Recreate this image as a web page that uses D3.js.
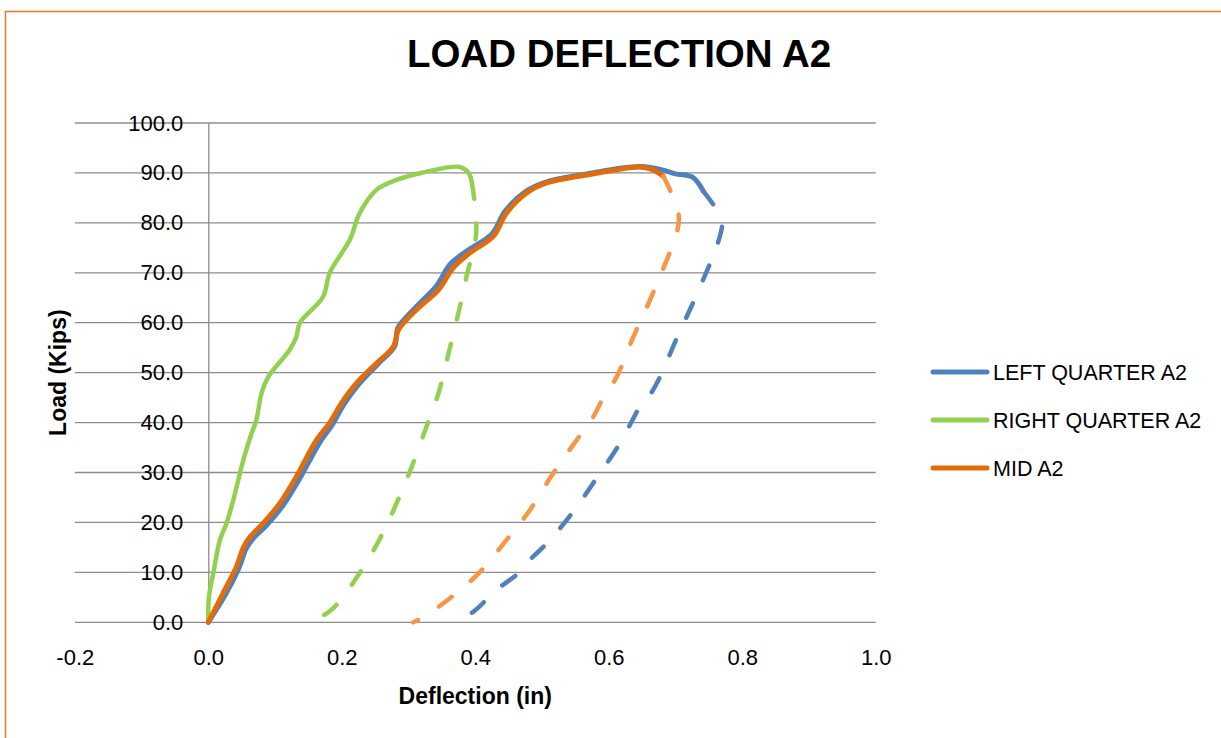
<!DOCTYPE html>
<html>
<head>
<meta charset="utf-8">
<script src="https://cdn.jsdelivr.net/npm/d3@7"></script>
<style>
  body { margin: 0; background: #fff; }
  svg { display: block; font-family: "Liberation Sans", Arial, sans-serif; }
</style>
</head>
<body>
<svg id="chart" width="1221" height="738"></svg>
<script>
// ---- data ----
const xTicks = [-0.2, 0.0, 0.2, 0.4, 0.6, 0.8, 1.0];
const yTicks = [0, 10, 20, 30, 40, 50, 60, 70, 80, 90, 100];
const seriesNames = ["LEFT QUARTER A2", "RIGHT QUARTER A2", "MID A2"];

// left quarter, loading (solid) and unloading (dashed)
const leftLoadX = [0, 0.026, 0.046, 0.057, 0.068, 0.087, 0.112, 0.137, 0.167, 0.186, 0.203, 0.225, 0.254, 0.279, 0.284, 0.296, 0.316, 0.342, 0.363, 0.390, 0.425, 0.445, 0.476, 0.507, 0.567, 0.610, 0.650, 0.680, 0.700, 0.725, 0.742];
const leftLoadY = [0, 5.6, 10.9, 14.8, 16.9, 19.4, 23.4, 28.8, 36.0, 39.6, 43.6, 47.6, 51.7, 55.2, 59.0, 61.0, 63.8, 67.4, 71.8, 74.6, 77.8, 82.4, 86.3, 88.2, 89.8, 90.8, 91.3, 90.6, 89.8, 89.2, 86.3];
const leftUnloadX = [0.742, 0.762, 0.770, 0.762, 0.750, 0.727, 0.702, 0.677, 0.662, 0.647, 0.617, 0.582, 0.547, 0.510, 0.482, 0.467, 0.432, 0.397, 0.372];
const leftUnloadY = [86.3, 82.6, 80.3, 75.3, 71.3, 64.2, 56.9, 49.2, 45.6, 43.2, 35.9, 28.9, 22.2, 16.2, 12.5, 10.1, 6.5, 2.1, 0.3];

// right quarter
const rightLoadX = [0, 0.001, 0.0075, 0.0175, 0.0275, 0.0375, 0.0525, 0.064, 0.072, 0.080, 0.090, 0.122, 0.132, 0.137, 0.172, 0.182, 0.212, 0.227, 0.252, 0.282, 0.322, 0.377, 0.390, 0.395];
const rightLoadY = [0, 5.1, 9.8, 16.5, 19.9, 24.5, 32.5, 37.5, 40.5, 46.0, 49.2, 54.6, 57.2, 59.9, 65.2, 70.0, 76.6, 82.0, 86.6, 88.6, 90.1, 91.2, 90.0, 88.0];
const rightUnloadX = [0.395, 0.400, 0.401, 0.387, 0.377, 0.360, 0.345, 0.327, 0.305, 0.282, 0.255, 0.225, 0.187, 0.157];
const rightUnloadY = [88.0, 83.0, 77.3, 69.3, 63.2, 53.9, 45.9, 39.2, 31.2, 23.8, 16.2, 9.5, 2.8, 0.1];

// mid span
const midLoadX = [0, 0.022, 0.042, 0.053, 0.063, 0.082, 0.107, 0.132, 0.162, 0.182, 0.200, 0.222, 0.252, 0.277, 0.285, 0.297, 0.317, 0.345, 0.367, 0.392, 0.427, 0.447, 0.477, 0.507, 0.567, 0.610, 0.645, 0.665, 0.682];
const midLoadY = [0, 5.8, 11.1, 15.1, 17.2, 19.8, 23.8, 29.2, 36.5, 40.0, 44.0, 47.9, 51.9, 55.2, 58.6, 60.6, 63.2, 66.6, 71.0, 74.0, 77.3, 82.0, 86.0, 88.0, 89.6, 90.6, 91.2, 90.7, 89.3];
const midUnloadX = [0.682, 0.692, 0.705, 0.702, 0.687, 0.662, 0.637, 0.612, 0.590, 0.577, 0.552, 0.517, 0.482, 0.447, 0.405, 0.362, 0.322, 0.307];
const midUnloadY = [89.3, 86.5, 81.3, 78.0, 72.6, 64.6, 57.2, 49.2, 44.5, 41.2, 36.5, 29.9, 22.5, 16.5, 9.8, 4.8, 1.0, 0.0];

// ---- layout ----
const plot = { left: 74.8, right: 875.7, top: 123, bottom: 622.3 };
const colors = { left: "#4F81BD", right: "#92D050", mid: "#E36C09", midDash: "#F79646" };
const gridColor = "#8C8C8C";

const svg = d3.select("#chart");

// outer frame (only the top and left edges show in the picture)
svg.append("rect")
  .attr("x", 5.5)
  .attr("y", 11.5)
  .attr("width", 1400)
  .attr("height", 900)
  .attr("fill", "none")
  .attr("stroke", "#E67E30")
  .attr("stroke-width", 1.6);

const x = d3.scaleLinear().domain([-0.2, 1.0]).range([plot.left, plot.right]);
const y = d3.scaleLinear().domain([0, 100]).range([plot.bottom, plot.top]);

// plain hyphen for negatives, like the original
const fmt = d => d3.format(".1f")(d).replace("\u2212", "-");

// horizontal gridlines
svg.append("g")
  .selectAll("line")
  .data(yTicks)
  .enter()
  .append("line")
  .attr("x1", plot.left)
  .attr("x2", plot.right)
  .attr("y1", d => y(d))
  .attr("y2", d => y(d))
  .attr("stroke", gridColor)
  .attr("stroke-width", 1.3);

// y axis sits at x = 0
const yAxis = svg.append("g")
  .attr("transform", `translate(${x(0)},0)`)
  .call(d3.axisLeft(y).tickValues(yTicks).tickSize(0).tickPadding(25).tickFormat(fmt));
yAxis.select(".domain").attr("stroke", gridColor).attr("stroke-width", 1.3);
yAxis.selectAll("text").attr("font-size", 22).attr("fill", "#000")
  .attr("font-family", "Liberation Sans, Arial, sans-serif");

const xAxis = svg.append("g")
  .attr("transform", `translate(0,${y(0)})`)
  .call(d3.axisBottom(x).tickValues(xTicks).tickSize(0).tickPadding(27).tickFormat(fmt));
xAxis.select(".domain").remove();
xAxis.selectAll("text").attr("font-size", 22).attr("fill", "#000")
  .attr("font-family", "Liberation Sans, Arial, sans-serif");

/*
 * curves
 */
const line = d3.line()
  .curve(d3.curveCatmullRom.alpha(0.5))
  .x(d => x(d[0]))
  .y(d => y(d[1]));

const curves = [
  { xs: leftLoadX, ys: leftLoadY, color: colors.left, width: 5, dash: null },
  { xs: rightLoadX, ys: rightLoadY, color: colors.right, width: 4.5, dash: null },
  { xs: midLoadX, ys: midLoadY, color: colors.mid, width: 5, dash: null },
  { xs: midUnloadX, ys: midUnloadY, color: colors.midDash, width: 4.5, dash: "16,25" },
  { xs: leftUnloadX, ys: leftUnloadY, color: colors.left, width: 4.5, dash: "16,25" },
  { xs: rightUnloadX, ys: rightUnloadY, color: colors.right, width: 4.5, dash: "16,25" }
];

svg.append("g")
  .selectAll("path")
  .data(curves)
  .enter()
  .append("path")
  .attr("d", c => line(d3.zip(c.xs, c.ys)))
  .attr("fill", "none")
  .attr("stroke", c => c.color)
  .attr("stroke-width", c => c.width)
  .attr("stroke-linecap", "round")
  .attr("stroke-linejoin", "round")
  .attr("stroke-dasharray", c => c.dash);

// title + axis titles
svg.append("text")
  .attr("x", 619)
  .attr("y", 67)
  .attr("text-anchor", "middle")
  .attr("font-weight", "bold")
  .attr("font-size", 38.5)
  .text("LOAD DEFLECTION A2");

svg.append("text")
  .attr("x", (x(0.2) + x(0.6)) / 2)
  .attr("y", 704)
  .attr("text-anchor", "middle")
  .attr("font-weight", "bold")
  .attr("font-size", 23)
  .text("Deflection (in)");

svg.append("text")
  .attr("transform", `translate(66,${y(50)}) rotate(-90)`)
  .attr("text-anchor", "middle")
  .attr("font-weight", "bold")
  .attr("font-size", 23)
  .text("Load (Kips)");

/*
 * legend
 */
const legendColors = [colors.left, colors.right, colors.mid];
const legend = svg.append("g").attr("transform", "translate(933,372)");
const items = legend.selectAll("g")
  .data(seriesNames)
  .enter()
  .append("g")
  .attr("transform", (d, i) => `translate(0,${i * 48})`);

items.append("line")
  .attr("x1", 0)
  .attr("x2", 54)
  .attr("stroke", (d, i) => legendColors[i])
  .attr("stroke-width", 5)
  .attr("stroke-linecap", "round");

items.append("text")
  .attr("x", 60)
  .attr("dy", "0.35em")
  .attr("font-size", 21.5)
  .text(d => d);
</script>
</body>
</html>
